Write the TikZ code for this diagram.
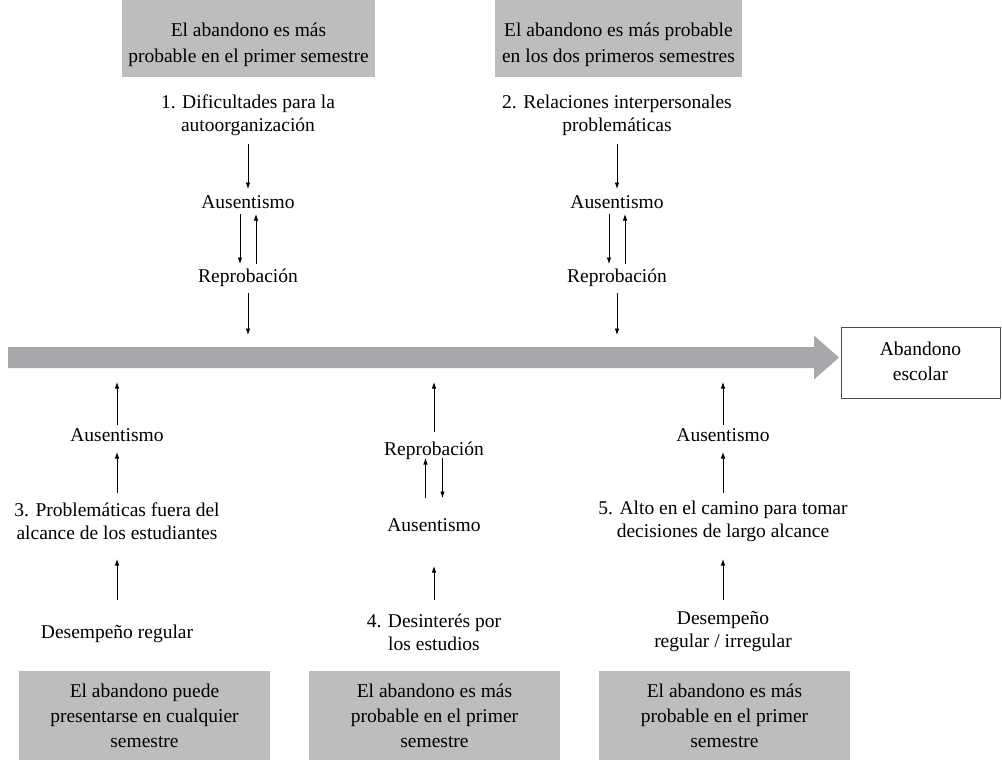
\documentclass[tikz,border=0pt]{standalone}
\usepackage{fontspec}
\setmainfont{Liberation Serif}
\usetikzlibrary{arrows.meta}
\definecolor{boxgray}{HTML}{BCBDBF}
\definecolor{bargray}{HTML}{A7A8AB}
\begin{document}
\begin{tikzpicture}[x=1pt,y=-1pt,
  txt/.style={align=center,inner sep=0pt,font=\fontsize{19.5}{23}\selectfont},
  one/.style={txt,text height=13pt,text depth=4pt},
  boxtxt/.style={align=center,inner sep=0pt,font=\fontsize{19.5}{25.5}\selectfont},
  arr/.style={-{Latex[length=6.5pt,width=4.5pt]},line width=0.8pt,black},
  endbox/.style={draw=black!70,line width=0.8pt}]
\useasboundingbox (0,0) rectangle (1002,760);
% top boxes
\fill[boxgray] (122,-2) rectangle (375,77);
\node[boxtxt] (h1) at (248.5,45) {El abandono es más\\probable en el primer semestre};
\fill[boxgray] (495,-2) rectangle (742,77);
\node[boxtxt] (h2) at (618.5,45) {El abandono es más probable\\en los dos primeros semestres};
% big arrow
\fill[bargray] (8,347) -- (814,347) -- (814,335.5) -- (839,357.5) -- (814,379.5) -- (814,368) -- (8,368) -- cycle;
\coordinate (bt1) at (248,347);
\coordinate (bt2) at (617,347);
\coordinate (bb3) at (117,368);
\coordinate (bb4) at (434,368);
\coordinate (bb5) at (723,368);
\draw[endbox] (841.5,327.5) rectangle (1000,398.5);
\node[boxtxt,font=\fontsize{19.5}{25}\selectfont] (end) at (920.5,361) {Abandono\\escolar};
% top chains
\node[txt] (t1) at (248,115) {1. Dificultades para la\\autoorganización};
\node[one] (a1) at (248,204) {Ausentismo};
\node[one] (r1) at (248,278) {Reprobación};
\node[txt] (t2) at (617,115) {2. Relaciones interpersonales\\problemáticas};
\node[one] (a2) at (617,204) {Ausentismo};
\node[one] (r2) at (617,278) {Reprobación};
\foreach \i in {1,2}{
  \draw[arr] ([yshift=-29pt]t\i.center) -- ([yshift=15pt]a\i.center);
  \draw[arr] ([xshift=-8pt,yshift=-10pt]a\i.center) -- ([xshift=-8pt,yshift=14pt]r\i.center);
  \draw[arr] ([xshift=8pt,yshift=14pt]r\i.center) -- ([xshift=8pt,yshift=-10pt]a\i.center);
  \draw[arr] ([yshift=-15pt]r\i.center) -- ([yshift=12pt]bt\i);
}
% bottom chain 3
\node[one] (a3) at (117,437) {Ausentismo};
\node[txt] (t3) at (117,521) {3. Problemáticas fuera del\\alcance de los estudiantes};
\node[one] (d3) at (117,634) {Desempeño regular};
\draw[arr] ([yshift=12pt]a3.center) -- ([yshift=-14pt]bb3);
\draw[arr] ([yshift=28pt]t3.center) -- ([yshift=-15pt]a3.center);
\draw[arr] ([yshift=34pt]d3.center) -- ([yshift=-38pt]t3.center);
% bottom chain 4
\node[one] (r4) at (434,451) {Reprobación};
\node[one] (a4) at (434,527) {Ausentismo};
\node[txt] (t4) at (434,632) {4. Desinterés por\\los estudios};
\draw[arr] ([yshift=19pt]r4.center) -- ([yshift=-14pt]bb4);
\draw[arr] ([xshift=-8.5pt,yshift=29pt]a4.center) -- ([xshift=-8.5pt,yshift=-7pt]r4.center);
\draw[arr] ([xshift=8.5pt,yshift=-7pt]r4.center) -- ([xshift=8.5pt,yshift=29pt]a4.center);
\draw[arr] ([yshift=32pt]t4.center) -- ([yshift=-39pt]a4.center);
% bottom chain 5
\node[one] (a5) at (723,437) {Ausentismo};
\node[txt] (t5) at (723,521) {5. Alto en el camino para tomar\\decisiones de largo alcance};
\node[txt] (d5) at (723,632) {Desempeño\\regular / irregular};
\draw[arr] ([yshift=12pt]a5.center) -- ([yshift=-14pt]bb5);
\draw[arr] ([yshift=28pt]t5.center) -- ([yshift=-15pt]a5.center);
\draw[arr] ([yshift=32pt]d5.center) -- ([yshift=-38pt]t5.center);
% bottom boxes
\fill[boxgray] (19,671) rectangle (270,762);
\node[boxtxt,font=\fontsize{19.5}{25}\selectfont] (f3) at (144.5,716) {El abandono puede\\presentarse en cualquier\\semestre};
\fill[boxgray] (309,671) rectangle (560,762);
\node[boxtxt,font=\fontsize{19.5}{25}\selectfont] (f4) at (434.5,716) {El abandono es más\\probable en el primer\\semestre};
\fill[boxgray] (599,671) rectangle (850,762);
\node[boxtxt,font=\fontsize{19.5}{25}\selectfont] (f5) at (724.5,716) {El abandono es más\\probable en el primer\\semestre};
\end{tikzpicture}
\end{document}
